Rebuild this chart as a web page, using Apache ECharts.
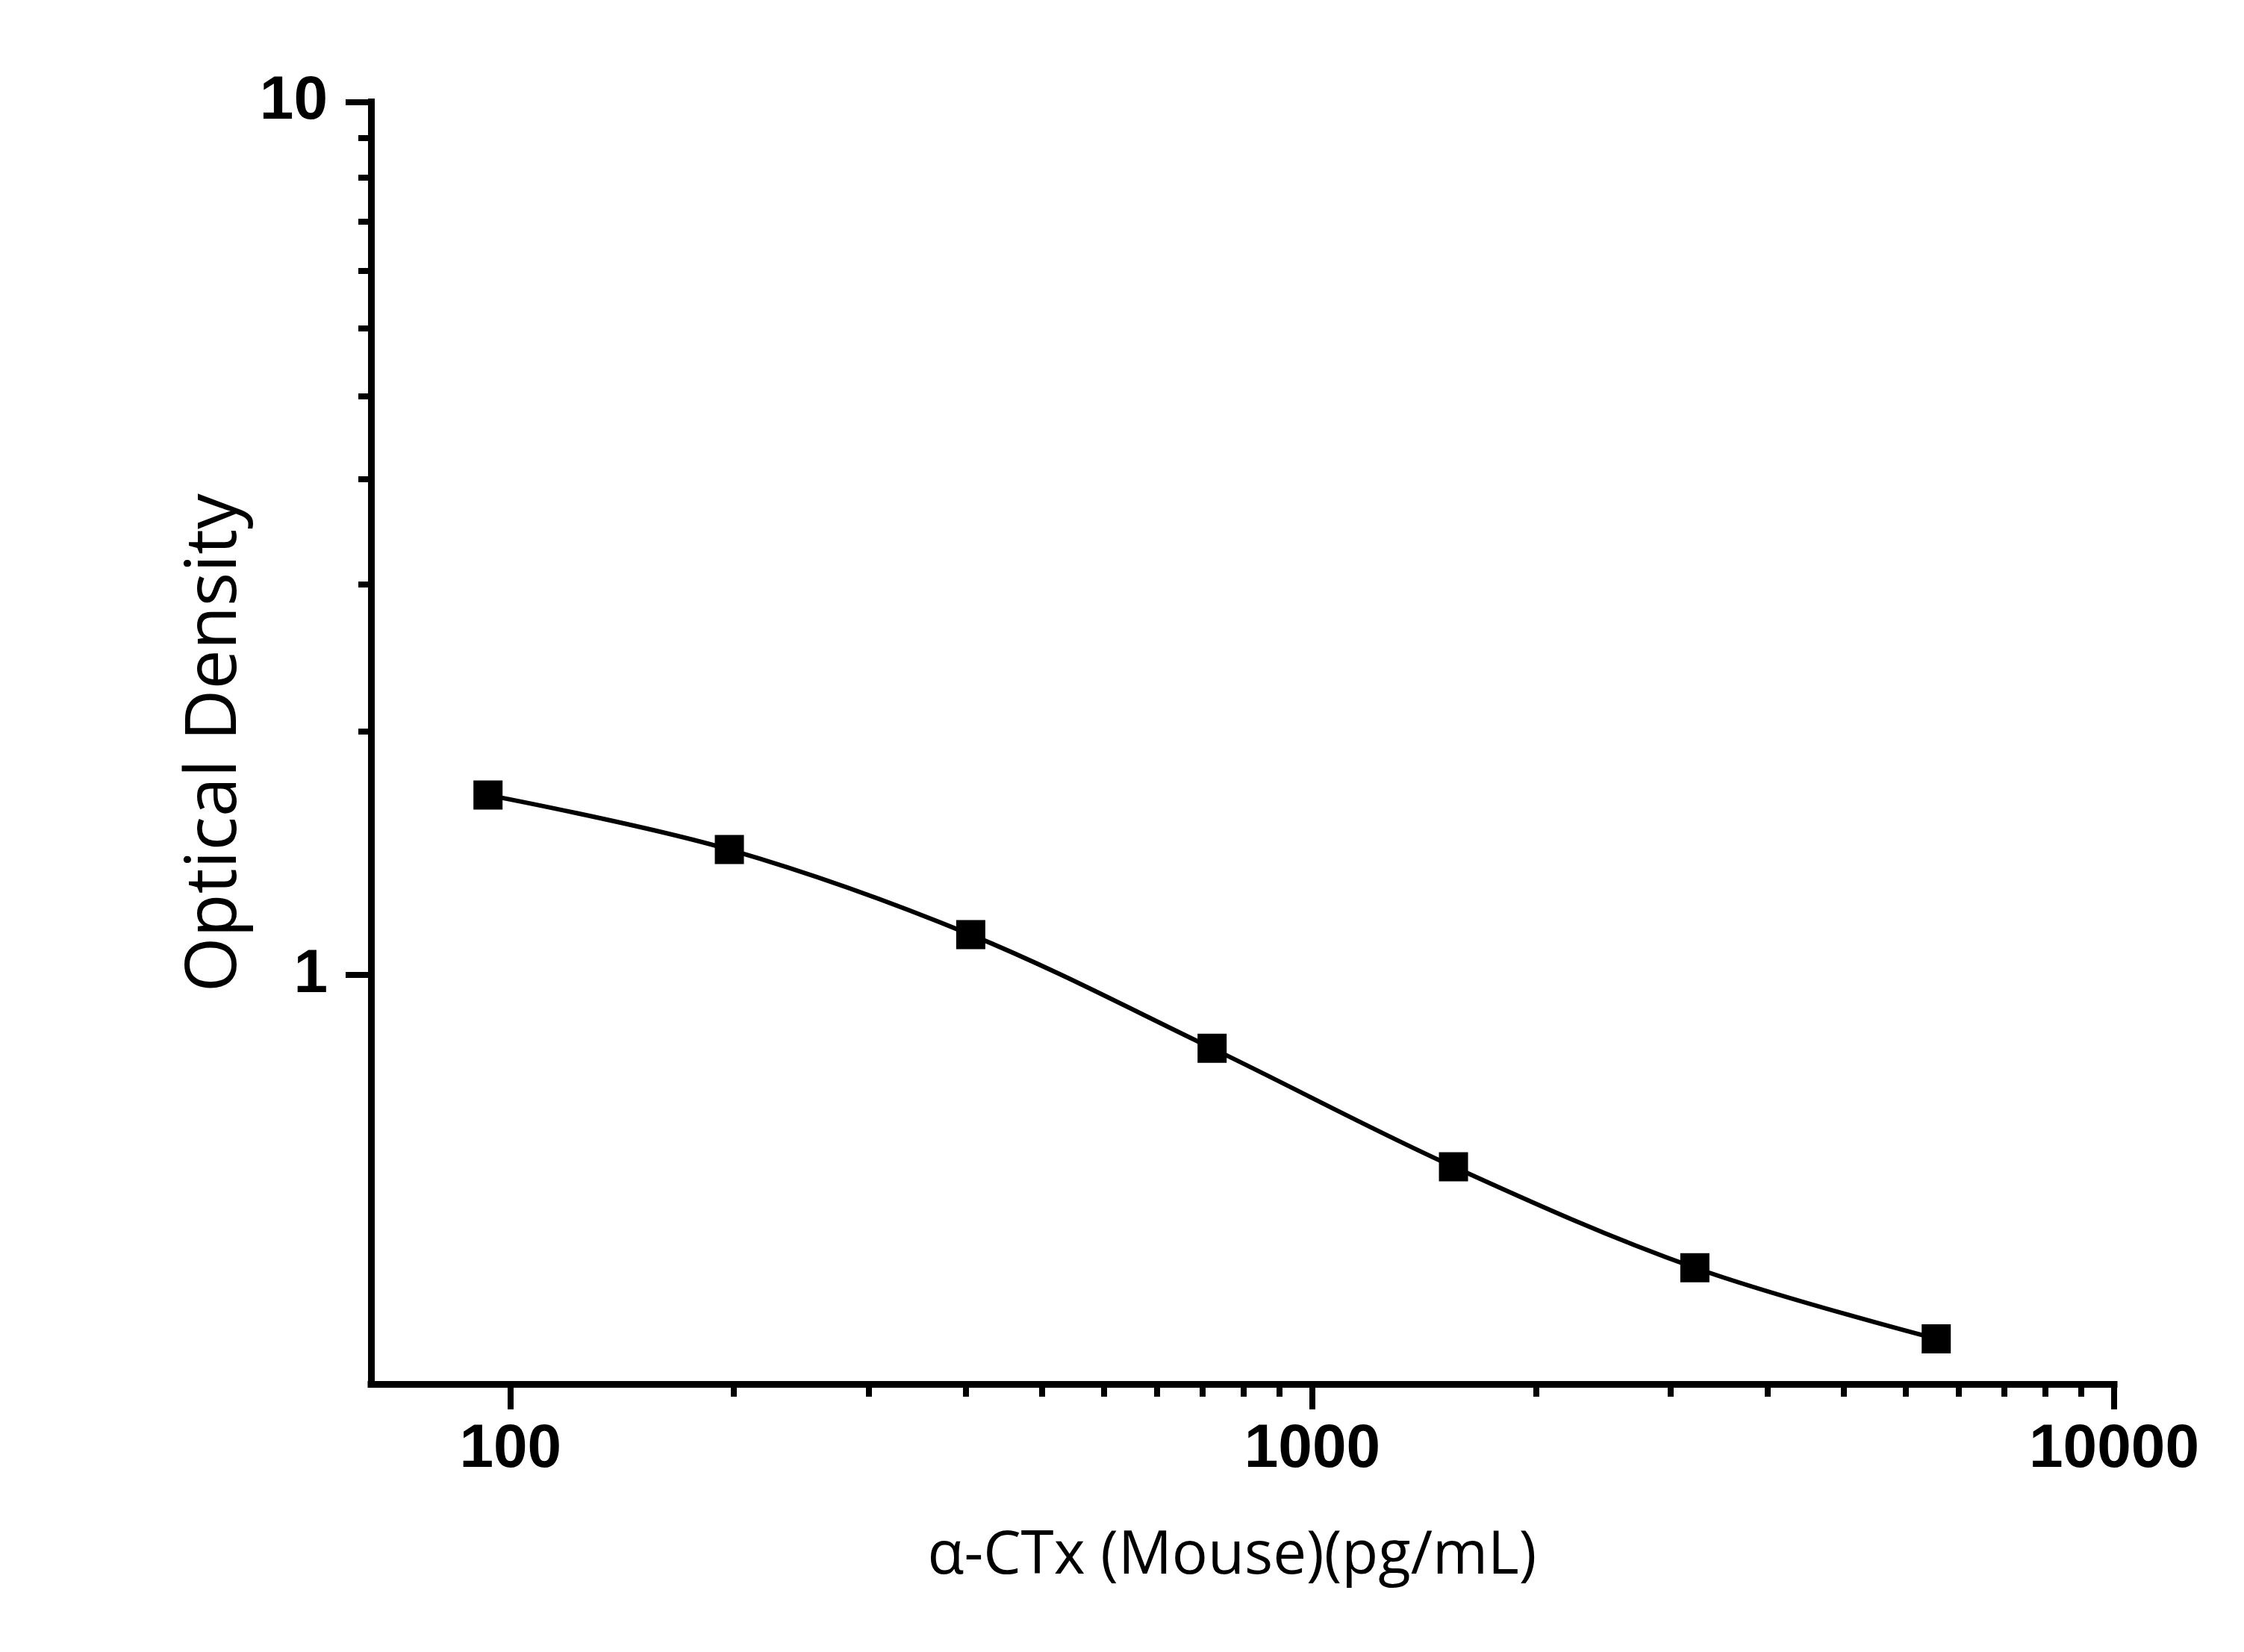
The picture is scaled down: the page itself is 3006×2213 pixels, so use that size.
<!DOCTYPE html>
<html>
<head>
<meta charset="utf-8">
<title>Standard curve</title>
<script src="https://cdn.jsdelivr.net/npm/echarts@6/dist/echarts.min.js"></script>
<style>
  html, body { margin: 0; padding: 0; background: #fff; }
  #chart { width: 3006px; height: 2213px; }
</style>
</head>
<body>
<div id="chart"></div>
<script>
// 标准曲线数据
var concentrations = [93.75, 187.5, 375, 750, 1500, 3000, 6000];
var odValues = [1.607, 1.392, 1.112, 0.824, 0.603, 0.462, 0.383];

// 刻度（次刻度按原图：每个十倍程内线性 9 等分）
var xMajorTicks = [100, 1000, 10000];
var xMinorTicks = [190, 280, 370, 460, 550, 640, 730, 820, 910,
                   1900, 2800, 3700, 4600, 5500, 6400, 7300, 8200, 9100];
var yMajorTicks = [1, 10];
var yMinorTicks = [1.9, 2.8, 3.7, 4.6, 5.5, 6.4, 7.3, 8.2, 9.1];

var xMin = 67, xMax = 10000;
var yMin = 0.34, yMax = 10;

var chart = echarts.init(document.getElementById('chart'));

var labelStyle = {
  color: '#000',
  fontFamily: 'Liberation Sans',
  fontWeight: 'bold',
  fontSize: 82
};

var option = {
  animation: false,
  backgroundColor: '#fff',
  grid: {
    left: 497,
    right: 174,
    top: 136.5,
    bottom: 359
  },
  xAxis: [{
    type: 'log',
    logBase: 10,
    min: xMin,
    max: xMax,
    position: 'bottom',
    name: 'α-CTx (Mouse)(pg/mL)',
    nameLocation: 'middle',
    nameGap: 191,
    nameTextStyle: {
      color: '#000',
      fontFamily: 'Open Sans',
      fontSize: 80,
      padding: [0, 28, 0, 0]
    },
    axisLine: {
      show: true,
      lineStyle: { color: '#000', width: 9, cap: 'square' }
    },
    axisTick: {
      show: true,
      length: 34,
      customValues: xMajorTicks,
      lineStyle: { color: '#000', width: 8 }
    },
    axisLabel: Object.assign({
      margin: 47,
      customValues: xMajorTicks,
      formatter: function (v) { return String(Math.round(v)); }
    }, labelStyle),
    splitLine: { show: false },
    minorTick: { show: false }
  }, {
    // 次刻度
    type: 'log',
    logBase: 10,
    min: xMin,
    max: xMax,
    position: 'bottom',
    axisLine: { show: false },
    axisTick: {
      show: true,
      length: 17,
      customValues: xMinorTicks,
      lineStyle: { color: '#000', width: 8 }
    },
    axisLabel: { show: false },
    splitLine: { show: false }
  }],
  yAxis: [{
    type: 'log',
    logBase: 10,
    min: yMin,
    max: yMax,
    position: 'left',
    name: 'Optical Density',
    nameLocation: 'middle',
    nameGap: 151,
    nameTextStyle: {
      color: '#000',
      fontFamily: 'Open Sans',
      fontSize: 95
    },
    axisLine: {
      show: true,
      lineStyle: { color: '#000', width: 9, cap: 'square' }
    },
    axisTick: {
      show: true,
      length: 34,
      customValues: yMajorTicks,
      lineStyle: { color: '#000', width: 8 }
    },
    axisLabel: Object.assign({
      margin: 58,
      padding: [0, 0, 16, 0],
      customValues: yMajorTicks,
      formatter: function (v) { return String(Math.round(v)); }
    }, labelStyle),
    splitLine: { show: false }
  }, {
    type: 'log',
    logBase: 10,
    min: yMin,
    max: yMax,
    position: 'left',
    axisLine: { show: false },
    axisTick: {
      show: true,
      length: 17,
      customValues: yMinorTicks,
      lineStyle: { color: '#000', width: 8 }
    },
    axisLabel: { show: false },
    splitLine: { show: false }
  }],
  series: [{
    type: 'line',
    xAxisIndex: 0,
    yAxisIndex: 0,
    smooth: 0.35,
    symbol: 'rect',
    symbolSize: 39,
    itemStyle: { color: '#000' },
    lineStyle: { color: '#000', width: 6 },
    data: concentrations.map(function (c, i) { return [c, odValues[i]]; })
  }]
};

chart.setOption(option);
</script>
</body>
</html>
